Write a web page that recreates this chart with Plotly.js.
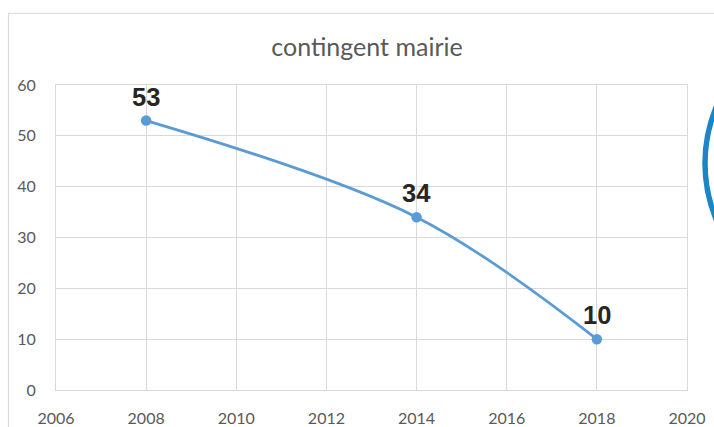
<!DOCTYPE html>
<html>
<head>
<meta charset="utf-8">
<script src="https://cdn.plot.ly/plotly-3.0.1.min.js"></script>
<style>html,body{margin:0;padding:0;background:#fff;}#chart{width:714px;height:427px;}</style>
</head>
<body>
<div id="chart"></div>
<script>
var years = [2008, 2014, 2018];
var values = [53, 34, 10];
var labels = ['53', '34', '10'];
var xTicks = [2006, 2008, 2010, 2012, 2014, 2016, 2018, 2020];
var yTicks = [0, 10, 20, 30, 40, 50, 60];
var chartTitle = 'contingent mairie';

var W = 714, H = 427;
var L = 56, R = 687, T = 84.5, B = 390.5;
function px(x){ return (x - L) / (R - L); }
function py(y){ return (B - y) / (B - T); }

var trace = {
  x: years, y: values, type: 'scatter', mode: 'lines+markers',
  line: {color: '#5b9bd5', width: 2.75, shape: 'spline', smoothing: 1},
  marker: {color: '#5b9bd5', size: 10.5},
  hoverinfo: 'none'
};

var annotations = years.map(function(x, i){
  return {x: x, y: values[i], xref: 'x', yref: 'y', text: labels[i], showarrow: false,
    yanchor: 'bottom', xanchor: 'center', yshift: 8,
    font: {family: 'Liberation Sans, Arial, sans-serif', size: 25.5, color: '#262626', weight: 'bold'}};
});

var layout = {
  width: W, height: H,
  margin: {l: L, r: W - R, t: T, b: H - B, pad: 0},
  paper_bgcolor: '#fff', plot_bgcolor: '#fff',
  showlegend: false,
  title: {text: chartTitle, xref: 'paper', x: px(367), xanchor: 'center', yref: 'container', y: 1 - 47/H, yanchor: 'middle',
    font: {family: 'Lato, sans-serif', size: 25, color: '#595959'}},
  xaxis: {range: [2006, 2020], tickvals: xTicks, ticktext: xTicks.map(String), showgrid: true, gridcolor: '#d9d9d9', gridwidth: 1,
    zeroline: false, showline: true, mirror: true, linecolor: '#d9d9d9', linewidth: 1, ticks: '', ticklabelstandoff: 14,
    tickfont: {family: 'Lato, sans-serif', size: 16, color: '#595959'}, fixedrange: true},
  yaxis: {range: [0, 60], tickvals: yTicks, ticktext: yTicks.map(String), showgrid: true, gridcolor: '#d9d9d9', gridwidth: 1,
    zeroline: false, showline: true, mirror: true, linecolor: '#d9d9d9', linewidth: 1, ticks: '', ticklabelstandoff: 16,
    tickfont: {family: 'Lato, sans-serif', size: 16, color: '#595959'}, fixedrange: true},
  annotations: annotations,
  shapes: [
    {type: 'rect', xref: 'paper', yref: 'paper', x0: px(8.5), x1: px(730), y0: py(440), y1: py(12.5),
      line: {color: '#d9d9d9', width: 1.2}, fillcolor: 'rgba(0,0,0,0)', layer: 'below'},
    {type: 'circle', xref: 'paper', yref: 'paper', x0: px(705), x1: px(705 + 296), y0: py(163 + 148), y1: py(163 - 148),
      line: {color: '#1a86c8', width: 5.5}, fillcolor: 'rgba(0,0,0,0)'}
  ]
};

Plotly.newPlot('chart', [trace], layout, {staticPlot: true, displayModeBar: false});
</script>
</body>
</html>
